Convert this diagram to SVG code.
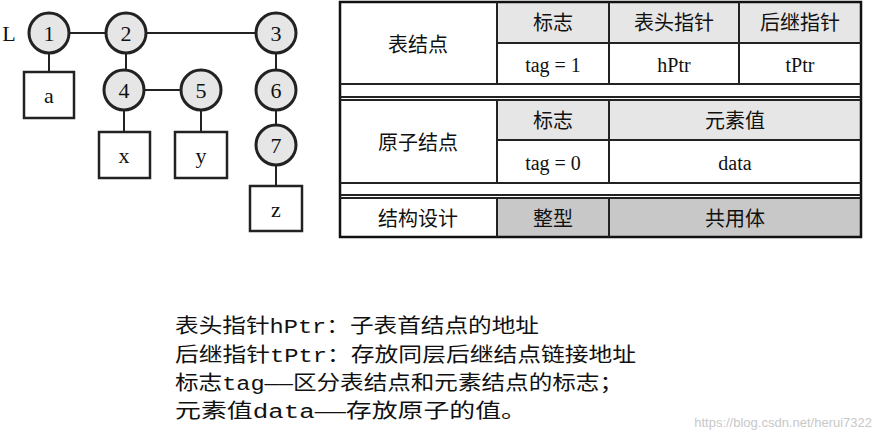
<svg xmlns="http://www.w3.org/2000/svg" width="879" height="440" viewBox="0 0 879 440">
<style>
.c{fill:#e6e6e6;stroke:#222;stroke-width:3}
.b{fill:#fff;stroke:#222;stroke-width:2.5}
.l{stroke:#222;stroke-width:2;fill:none}
.t{font-family:"Liberation Serif","Noto Sans CJK SC",serif;font-size:22px;text-anchor:middle;dominant-baseline:central;fill:#111}
.z{font-family:"Liberation Serif","Noto Sans CJK SC",serif;font-size:20px;text-anchor:middle;dominant-baseline:central;fill:#111}
.g{fill:#e6e6e6}.d{fill:#c8c8c8}
.n{font-family:"Liberation Mono","Noto Sans CJK SC",monospace;font-size:20px;fill:#111}
</style>
<rect width="879" height="440" fill="#fff"/>
<g id="connectors">
<path class="l" d="M49 33H276M49 33V72M126 33V90M124 90H201M124 90V132M201 90V132M276 33V145M276 145V186"/>
</g>
<text class="t" x="9" y="33">L</text>
<g id="n1"><circle class="c" cx="49" cy="33" r="20"/><text class="t" x="49" y="33">1</text></g>
<g id="n2"><circle class="c" cx="126" cy="33" r="20"/><text class="t" x="126" y="33">2</text></g>
<g id="n3"><circle class="c" cx="276" cy="33" r="20"/><text class="t" x="276" y="33">3</text></g>
<g id="n4"><circle class="c" cx="124" cy="90" r="20"/><text class="t" x="124" y="90">4</text></g>
<g id="n5"><circle class="c" cx="201" cy="90" r="20"/><text class="t" x="201" y="90">5</text></g>
<g id="n6"><circle class="c" cx="276" cy="90" r="20"/><text class="t" x="276" y="90">6</text></g>
<g id="n7"><circle class="c" cx="276" cy="145" r="20"/><text class="t" x="276" y="145">7</text></g>
<g id="a"><rect class="b" x="24" y="72" width="50" height="46"/><text class="t" x="49" y="95">a</text></g>
<g id="x"><rect class="b" x="99" y="132" width="51" height="46"/><text class="t" x="124" y="155">x</text></g>
<g id="y"><rect class="b" x="175" y="132" width="52" height="46"/><text class="t" x="201" y="155">y</text></g>
<g id="zz"><rect class="b" x="250" y="186" width="52" height="45"/><text class="t" x="276" y="209">z</text></g>
<g id="table">
<rect class="g" x="497" y="2" width="364" height="41"/>
<rect class="g" x="497" y="100" width="364" height="40"/>
<rect class="d" x="497" y="198" width="364" height="39"/>
<rect x="340" y="2" width="521" height="235" fill="none" stroke="#111" stroke-width="2.5"/>
<path class="l" d="M497 2V84M609 2V84M739 2V84M497 43H861M340 84H861M340 97H861M497 100V183M609 100V183M497 140H861M340 100H861M340 183H861M340 195H861M340 198H861M497 198V237M609 198V237"/>
<text class="z" x="418" y="45">表结点</text>
<text class="z" x="553" y="23">标志</text>
<text class="z" x="674" y="23">表头指针</text>
<text class="z" x="800" y="23">后继指针</text>
<text class="z" x="553" y="65">tag = 1</text>
<text class="z" x="674" y="65">hPtr</text>
<text class="z" x="800" y="65">tPtr</text>
<text class="z" x="418" y="143">原子结点</text>
<text class="z" x="553" y="121">标志</text>
<text class="z" x="735" y="121">元素值</text>
<text class="z" x="553" y="163">tag = 0</text>
<text class="z" x="735" y="163">data</text>
<text class="z" x="418" y="219">结构设计</text>
<text class="z" x="553" y="219">整型</text>
<text class="z" x="735" y="219">共用体</text>
</g>
<text class="n" x="175" y="333" textLength="364" lengthAdjust="spacingAndGlyphs">表头指针hPtr：子表首结点的地址</text>
<text class="n" x="175" y="362" textLength="461" lengthAdjust="spacingAndGlyphs">后继指针tPtr：存放同层后继结点链接地址</text>
<text class="n" x="175" y="390" textLength="448" lengthAdjust="spacingAndGlyphs">标志tag——区分表结点和元素结点的标志；</text>
<text class="n" x="175" y="418" textLength="352" lengthAdjust="spacingAndGlyphs">元素值data——存放原子的值。</text>
<text x="872" y="427" text-anchor="end" font-family="Liberation Sans,sans-serif" font-size="13" fill="#c8c8c8">https://blog.csdn.net/herui7322</text>
</svg>
